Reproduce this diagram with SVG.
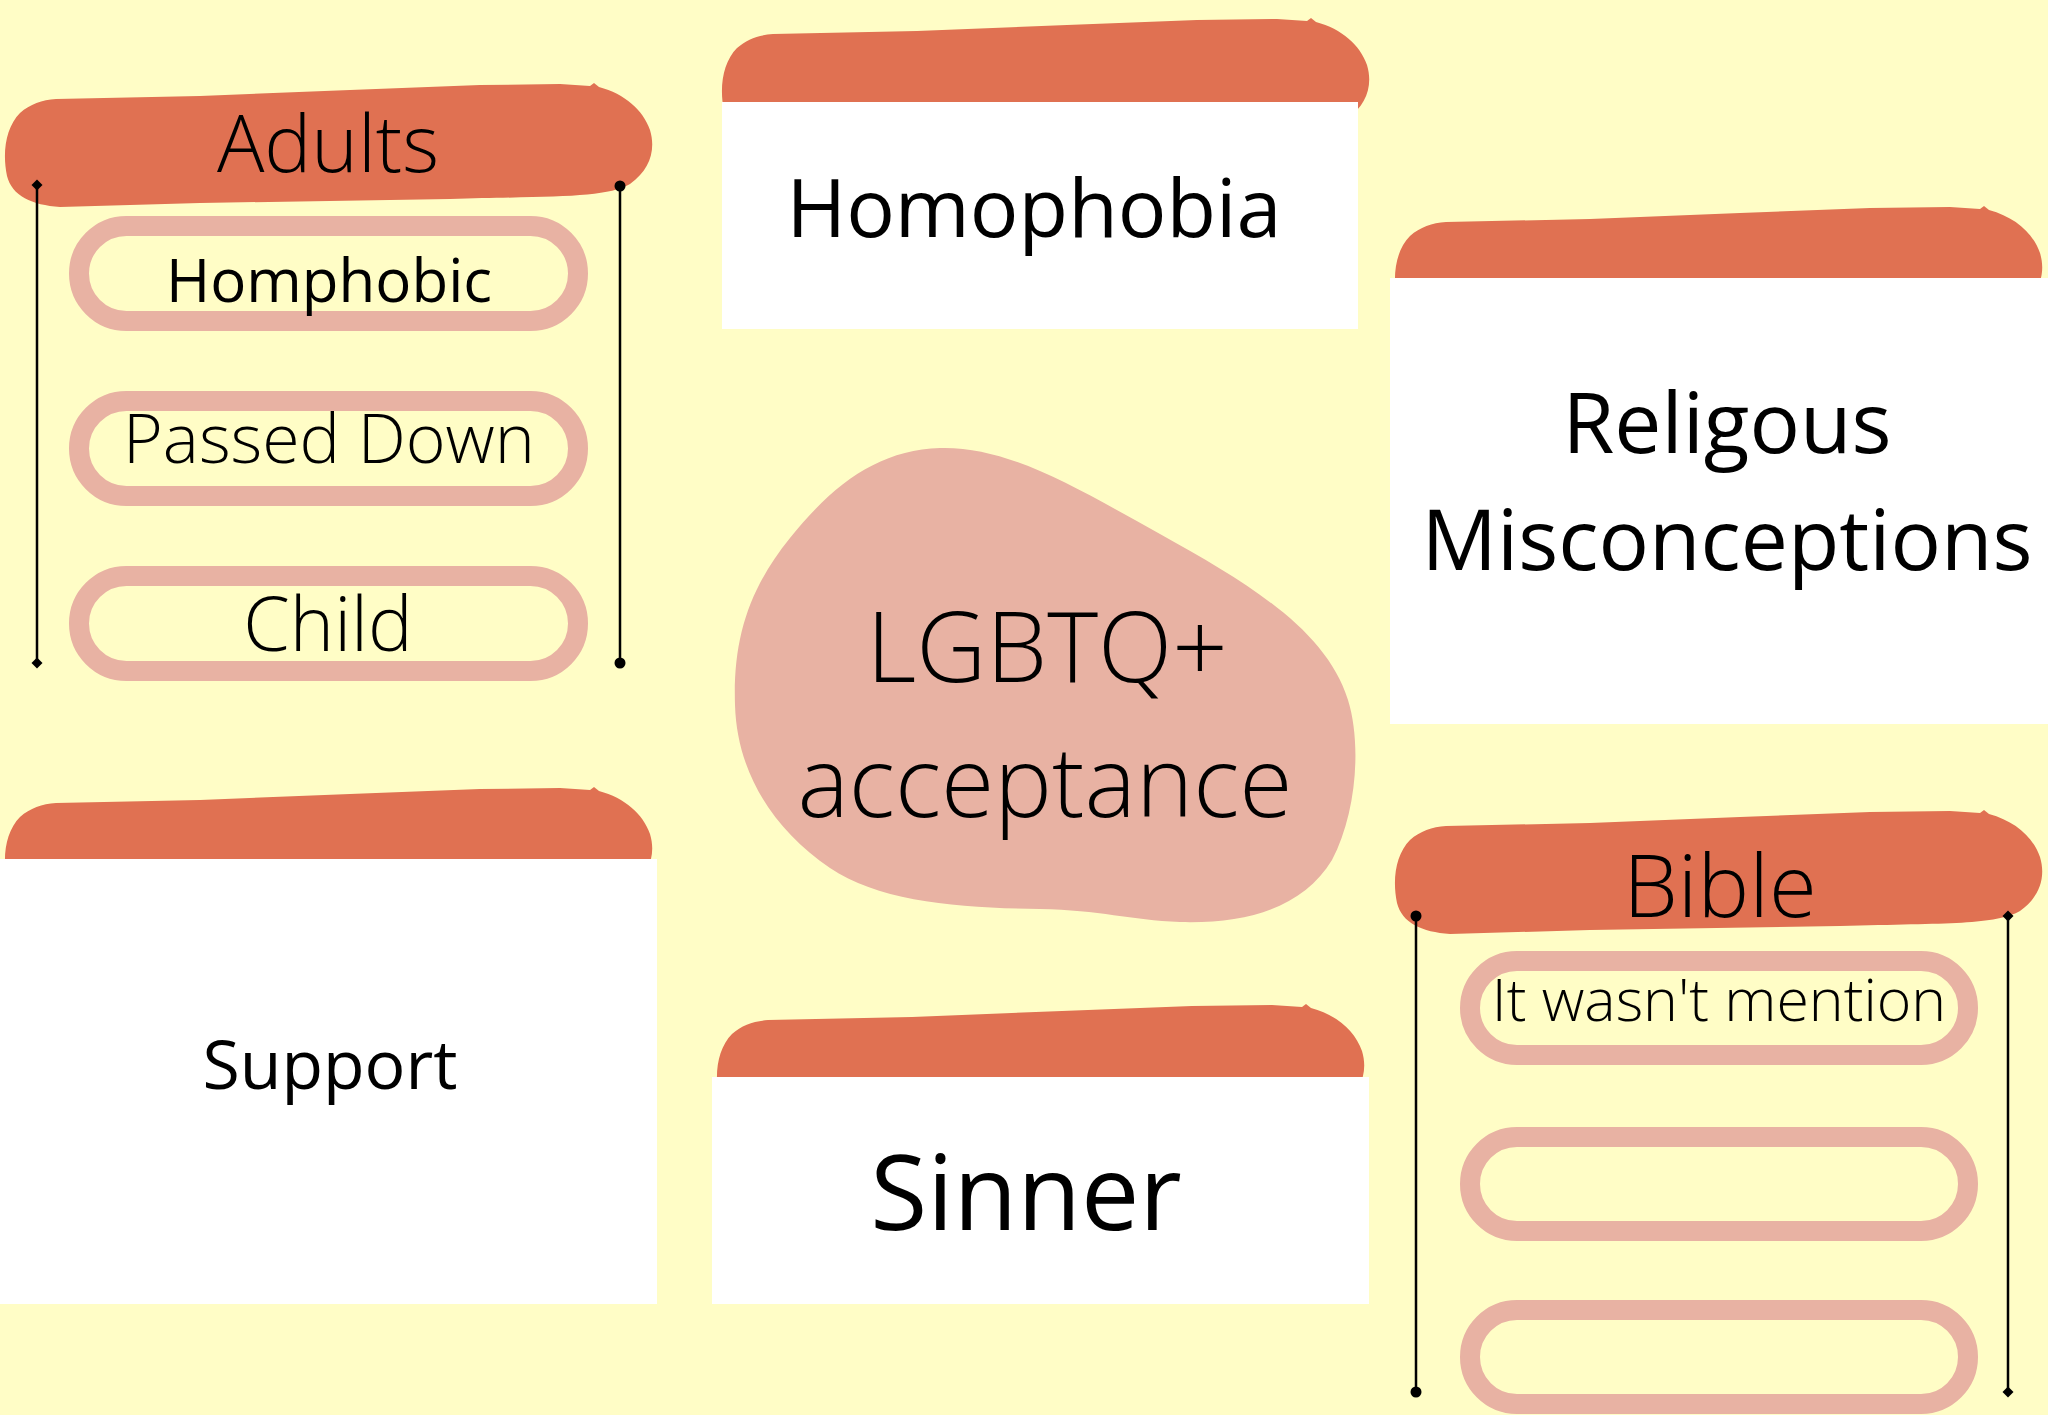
<svg xmlns="http://www.w3.org/2000/svg" xmlns:xlink="http://www.w3.org/1999/xlink" width="2048" height="1415" viewBox="0 0 2048 1415">
  <style>
    .bg { fill: #FFFDC6; }
    .brush { fill: #E07152; }
    .card { fill: #FFFFFF; }
    .pill { fill: none; stroke: #E8B2A3; stroke-width: 20; }
    .blob { fill: #E8B2A3; }
    .conn { stroke: #000000; stroke-width: 2.5; fill: none; }
    text { font-family: "Open Sans", "Noto Sans", "DejaVu Sans", sans-serif; fill: #000000; text-anchor: middle; }
    .light { font-weight: 300; }
    .reg { font-weight: 400; }
  </style>
  <defs>
    <path id="brushShape" d="M 56,99 L 200,96 L 350,90 L 480,85 L 560,84 L 590,86 L 594,83 L 599,87 C 625,94 643,110 650,130 C 656,150 650,170 630,184 C 605,198 560,196 450,199 L 200,203 L 60,207 C 32,205 12,196 7,176 C 2,152 6,127 20,113 C 30,104 42,100 56,99 Z"/>
    <marker id="dia" viewBox="-6 -6 12 12" markerWidth="12" markerHeight="12" refX="0" refY="0" markerUnits="userSpaceOnUse" orient="auto">
      <path d="M -5.5,0 L 0,-5.5 L 5.5,0 L 0,5.5 Z" fill="#000"/>
    </marker>
    <marker id="dot" viewBox="-6 -6 12 12" markerWidth="12" markerHeight="12" refX="0" refY="0" markerUnits="userSpaceOnUse" orient="auto">
      <circle cx="0" cy="0" r="5.5" fill="#000"/>
    </marker>
  </defs>

  <rect class="bg" x="0" y="0" width="2048" height="1415"/>

  <g id="node-adults">
    <use xlink:href="#brushShape" href="#brushShape" class="brush"/>
    <text class="light" x="328" y="172" font-size="79">Adults</text>
  </g>
  <g id="node-homphobic">
    <rect class="pill" x="79" y="226" width="499" height="95" rx="47.5"/>
    <text class="reg" x="329" y="302" font-size="60">Homphobic</text>
  </g>
  <g id="node-passed-down">
    <rect class="pill" x="79" y="401" width="499" height="95" rx="47.5"/>
    <text class="light" x="329" y="463" font-size="68">Passed Down</text>
  </g>
  <g id="node-child">
    <rect class="pill" x="79" y="576" width="499" height="95" rx="47.5"/>
    <text class="light" x="328" y="651" font-size="75">Child</text>
  </g>

  <g id="node-homophobia">
    <use xlink:href="#brushShape" href="#brushShape" class="brush" transform="translate(717,-65)"/>
    <rect class="card" x="722" y="102" width="636" height="227"/>
    <text class="reg" x="1034" y="237" font-size="81">Homophobia</text>
  </g>

  <g id="node-religous">
    <use xlink:href="#brushShape" href="#brushShape" class="brush" transform="translate(1390,123)"/>
    <rect class="card" x="1390" y="278" width="658" height="446"/>
    <text class="reg" x="1727" y="453" font-size="84">Religous</text>
    <text class="reg" x="1727" y="570" font-size="84">Misconceptions</text>
  </g>

  <g id="node-lgbtq">
    <path class="blob" d="M 940,448 C 1010,446 1080,490 1160,534 C 1250,584 1326,630 1348,700 C 1362,745 1356,815 1332,860 C 1304,906 1250,924 1180,922 C 1130,920 1100,910 1040,909 C 960,908 880,902 830,868 C 772,828 737,772 735,705 C 733,640 748,590 790,538 C 835,482 880,450 940,448 Z"/>
    <text class="light" x="1047" y="682" font-size="97">LGBTQ+</text>
    <text class="light" x="1045" y="817" font-size="97">acceptance</text>
  </g>

  <g id="node-support">
    <use xlink:href="#brushShape" href="#brushShape" class="brush" transform="translate(0,704)"/>
    <rect class="card" x="0" y="859" width="657" height="445"/>
    <text class="reg" x="330" y="1089" font-size="68">Support</text>
  </g>

  <g id="node-sinner">
    <use xlink:href="#brushShape" href="#brushShape" class="brush" transform="translate(712,921)"/>
    <rect class="card" x="712" y="1077" width="657" height="227"/>
    <text class="reg" x="1026" y="1230" font-size="104">Sinner</text>
  </g>

  <g id="node-bible">
    <use xlink:href="#brushShape" href="#brushShape" class="brush" transform="translate(1390,727)"/>
    <text class="light" x="1720" y="917" font-size="87">Bible</text>
  </g>
  <g id="node-wasnt-mention">
    <rect class="pill" x="1470" y="961" width="498" height="94" rx="47"/>
    <text class="light" x="1719" y="1021" font-size="59">It wasn't mention</text>
  </g>
  <g id="node-bible-empty-1">
    <rect class="pill" x="1470" y="1137" width="498" height="94" rx="47"/>
  </g>
  <g id="node-bible-empty-2">
    <rect class="pill" x="1470" y="1310" width="498" height="94" rx="47"/>
  </g>

  <g id="connectors">
    <line class="conn" x1="37" y1="185" x2="37" y2="663" marker-start="url(#dia)" marker-end="url(#dia)"/>
    <line class="conn" x1="620" y1="186" x2="620" y2="663" marker-start="url(#dot)" marker-end="url(#dot)"/>
    <line class="conn" x1="1416" y1="916" x2="1416" y2="1392" marker-start="url(#dot)" marker-end="url(#dot)"/>
    <line class="conn" x1="2008" y1="916" x2="2008" y2="1392" marker-start="url(#dia)" marker-end="url(#dia)"/>
  </g>
</svg>
